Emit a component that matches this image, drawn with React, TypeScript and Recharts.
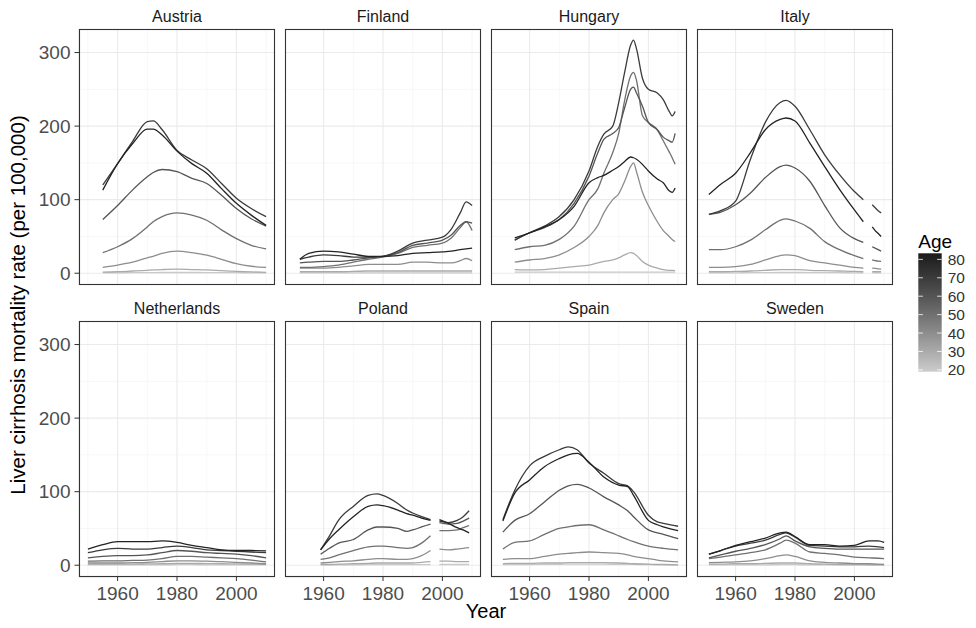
import React from 'react';
import { LineChart, Line, XAxis, YAxis, CartesianGrid } from 'recharts';

// age groups, light (young) to dark (old)
const ages = [20, 30, 40, 50, 60, 70, 80];

const austriaYears = [1955, 1960, 1965, 1970, 1972, 1975, 1980, 1985, 1990, 1995, 2000, 2005, 2010];
const austriaRates = [
  [0.5, 0.6, 0.7, 0.8, 0.9, 1, 1, 1, 0.9, 0.8, 0.7, 0.6, 0.5],
  [1.5, 2, 3, 4, 4.5, 5, 5.5, 5, 4.5, 3.5, 2.5, 1.8, 1.2],
  [8, 11, 15, 21, 23, 27, 30, 28, 24.5, 19, 13, 9.5, 8],
  [28, 36, 47, 63, 70, 77, 82, 79, 72, 59, 47, 38, 33],
  [73, 92, 113, 131, 137, 141, 138, 129, 122, 106, 88, 74, 64],
  [120, 149, 179, 206, 207, 195, 167, 154, 142, 122, 102, 88, 77],
  [113, 149, 176, 196, 196, 188, 166, 149, 136, 115, 95, 79, 65],
];

const finlandYears = [1952, 1955, 1960, 1965, 1970, 1975, 1980, 1985, 1990, 1995, 2000, 2003, 2006, 2008, 2010];
const finlandRates = [
  [0.5, 0.5, 0.5, 0.5, 0.5, 0.5, 0.5, 0.6, 0.6, 0.6, 0.6, 0.6, 0.6, 0.6, 0.6],
  [2, 2, 2, 2, 2.5, 3, 3, 3, 3, 3, 3, 3, 3, 3, 3],
  [7, 7, 7, 8, 10, 12, 12, 12, 15, 15, 14, 14, 17, 20, 17],
  [8, 8, 9, 11, 15, 19, 22, 27, 35, 38, 41, 48, 62, 70, 58],
  [14, 15, 16, 16, 18, 21, 23, 28, 38, 41, 45, 52, 65, 70, 68],
  [19, 22, 25, 24, 22, 22, 23, 30, 41, 45, 49, 60, 82, 97, 92],
  [19, 27, 30, 29, 26, 23, 23, 24, 27, 28, 29, 30, 32, 33, 34],
];

const hungaryYears = [1955, 1960, 1965, 1970, 1975, 1980, 1983, 1985, 1988, 1990, 1992, 1994, 1995, 1996, 1998, 2000, 2003, 2005, 2007, 2008, 2009];
const hungaryRates = [
  [1.5, 1.5, 1.5, 1.5, 1.5, 1.5, 1.5, 1.5, 1.5, 1.5, 1.5, 1.5, 1.5, 1.5, 1.5, 1.5, 1.5, 1.5, 1.5, 1.5, 1.5],
  [5, 4.5, 5, 7, 9, 11, 14, 16, 18, 21, 25, 28, 27, 24, 16, 11, 7, 5, 4, 4, 3.6],
  [15, 18, 20, 25, 35, 50, 65, 82, 100, 108, 125, 145, 150, 138, 110, 92, 70, 58, 50, 46, 43],
  [32, 36, 38, 46, 64, 100, 115, 136, 164, 190, 235, 268, 273, 262, 214, 205, 195, 180, 165, 157, 148],
  [45, 55, 62, 73, 95, 132, 164, 182, 190, 198, 225, 250, 253, 245, 227, 205, 195, 185, 180, 178, 190],
  [45, 55, 64, 77, 100, 139, 173, 189, 200, 232, 273, 310, 317, 305, 265, 250, 245, 236, 220, 214, 220],
  [48, 55, 63, 73, 91, 123, 130, 133, 140, 145, 152, 158, 157, 155, 148, 139, 128, 123, 112, 110, 116],
];

const italyYears = [1951, 1955, 1960, 1965, 1970, 1975, 1977, 1980, 1985, 1990, 1995, 2000, 2003, 2005, 2006, 2007, 2008, 2009];
const italyRates = [
  [0.5, 0.5, 0.6, 0.7, 0.8, 1, 1, 1, 0.9, 0.8, 0.7, 0.6, 0.5, null, 0.5, 0.5, 0.5, 0.5],
  [2, 2, 2.5, 3, 4, 5, 5, 5, 4, 3.5, 3, 2.5, 2, null, 2, 2, 2, 2],
  [8, 8, 9, 12, 18, 24, 25, 24, 17, 14, 11, 8, 7, null, 7, 6.5, 6, 5.5],
  [32, 32, 36, 45, 59, 72, 74, 71, 61, 43, 32, 24, 20, null, 18, 17, 16.5, 16],
  [80, 83, 93, 109, 130, 145, 147, 143, 125, 92, 62, 47, 42, null, 36, 34, 32, 30],
  [80, 85, 98, 155, 205, 232, 235, 227, 195, 161, 134, 111, 100, null, 93, 89, 85, 82],
  [107, 121, 136, 164, 195, 209, 211, 207, 177, 145, 114, 86, 70, null, 63, 58, 54, 50],
];

const netherlandsYears = [1950, 1955, 1960, 1965, 1970, 1975, 1980, 1985, 1990, 1995, 2000, 2005, 2010];
const netherlandsRates = [
  [0.5, 0.5, 0.5, 0.5, 0.5, 0.6, 0.7, 0.7, 0.6, 0.6, 0.5, 0.5, 0.5],
  [1.5, 1.5, 1.5, 1.5, 1.8, 2, 2.5, 2.5, 2.2, 2, 1.8, 1.5, 1.2],
  [3, 3, 3, 3.5, 4, 5, 6, 6, 5.5, 5, 4, 3, 2],
  [5.5, 6, 6, 6.5, 7, 9, 12, 12, 11, 10, 9, 7, 4.5],
  [10, 12, 13, 13, 14, 17, 20, 19, 17, 16, 15, 13, 10],
  [17, 21, 23, 22, 22, 24, 26, 24, 21, 20, 19, 18, 17],
  [22, 28, 32, 32, 32, 33, 31, 27, 24, 21, 20, 20, 19.5],
];

const polandYears = [1959, 1962, 1965, 1970, 1975, 1978, 1980, 1985, 1988, 1990, 1993, 1996, 1998, 1999, 2002, 2005, 2007, 2009];
const polandRates = [
  [0.5, 0.5, 0.5, 0.6, 0.7, 0.8, 0.8, 0.8, 0.8, 0.8, 0.9, 1, null, 1, 1, 1, 1, 1],
  [1, 1, 1.5, 2, 2.5, 3, 3, 3, 3, 3, 4, 5, null, 5.5, 5.5, 5, 5, 5],
  [3, 4, 5, 6, 8, 9, 9, 8, 8, 9, 13, 20, null, 22, 21, 22, 23, 24],
  [8, 10, 14, 20, 25, 26, 26, 24, 23, 24, 30, 40, null, 47, 47, 48, 51, 54],
  [15, 23, 30, 35, 48, 52, 52, 50, 46, 48, 52, 56, null, 58, 56, 57, 60, 64],
  [21, 40, 61, 80, 95, 97, 95, 84, 75, 71, 66, 62, null, 60, 58, 61, 66, 74],
  [21, 36, 48, 66, 80, 82, 81, 75, 70, 68, 64, 61, null, 62, 57, 51, 48, 44],
];

const spainYears = [1951, 1955, 1960, 1965, 1970, 1973, 1976, 1980, 1985, 1990, 1993, 1995, 2000, 2003, 2005, 2010];
const spainRates = [
  [1, 1, 1, 1.2, 1.3, 1.4, 1.4, 1.5, 1.4, 1.3, 1.2, 1.1, 0.9, 0.8, 0.7, 0.5],
  [2.3, 2.5, 2.5, 3, 3, 3.5, 3.5, 3.6, 3.5, 3, 2.5, 2, 1.5, 1, 1, 0.5],
  [8, 9, 9, 12, 15, 16, 17, 18, 17, 16, 14, 12, 9, 7, 6, 4.5],
  [22, 31, 33, 42, 50, 52, 54, 55, 48, 40, 35, 32, 26, 24, 23, 21],
  [45, 61, 70, 86, 102, 108, 110, 105, 93, 82, 74, 66, 48, 44, 42, 36],
  [62, 102, 135, 148, 157, 161, 157, 139, 125, 111, 108, 100, 68, 59, 57, 53],
  [60, 98, 116, 134, 145, 150, 152, 140, 120, 109, 107, 95, 61, 55, 52, 47],
];

const swedenYears = [1951, 1955, 1960, 1965, 1970, 1975, 1977, 1980, 1985, 1990, 1995, 2000, 2005, 2008, 2010];
const swedenRates = [
  [0.5, 0.5, 0.5, 0.5, 0.6, 0.7, 0.7, 0.7, 0.6, 0.5, 0.5, 0.5, 0.5, 0.5, 0.5],
  [1.5, 1.5, 2, 2, 2.5, 3, 3, 3, 2, 1.5, 1, 0.8, 0.6, 0.5, 0.5],
  [3.6, 4, 4.5, 6, 9, 13, 14, 12, 6, 4, 3, 2.3, 2, 1.5, 1],
  [9, 11, 14, 17, 21, 30, 34, 30, 18, 16, 14, 11, 10, 9.5, 9],
  [10, 14, 19, 23, 28, 36, 40, 33, 25, 23, 22, 22, 22, 22, 22],
  [15, 20, 26, 30, 34, 42, 44, 38, 27, 26, 25, 25, 26, 25, 24],
  [15, 20, 27, 32, 37, 44, 45, 39, 28, 28, 26, 27, 33, 33, 31],
];

const xMajor = [1960, 1980, 2000];
const xMinor = [1950, 1970, 1990, 2010];
const yMajor = [0, 100, 200, 300];
const yMinor = [50, 150, 250];
const legendTicks = [20, 30, 40, 50, 60, 70, 80];

const panels = [
  { name: 'Austria', years: austriaYears, rates: austriaRates },
  { name: 'Finland', years: finlandYears, rates: finlandRates },
  { name: 'Hungary', years: hungaryYears, rates: hungaryRates },
  { name: 'Italy', years: italyYears, rates: italyRates },
  { name: 'Netherlands', years: netherlandsYears, rates: netherlandsRates },
  { name: 'Poland', years: polandYears, rates: polandRates },
  { name: 'Spain', years: spainYears, rates: spainRates },
  { name: 'Sweden', years: swedenYears, rates: swedenRates },
];

const FONT = '"Liberation Sans", Arial, sans-serif';
const X_DOMAIN = [1947, 2013];
const Y_DOMAIN = [-16, 332];
const PANEL_LEFT = [79, 285, 491, 697];
const PANEL_TOP = [29, 321];
const PANEL_W = 196;
const PANEL_H = 256;
const Y_AXIS_W = 60;
const X_AXIS_H = 40;

const AGE_MIN = 19;
const AGE_MAX = 83.3;

// grey ramp interpolated in lightness, like the colour bar
function ageColor(age: number) {
  const t = Math.min(1, Math.max(0, (age - AGE_MIN) / (AGE_MAX - AGE_MIN)));
  const L = 82 - t * 72;
  const fy = (L + 16) / 116;
  const Y = L > 8 ? fy ** 3 : L / 903.3;
  const c = Y <= 0.0031308 ? 12.92 * Y : 1.055 * Y ** (1 / 2.4) - 0.055;
  const g = Math.round(c * 255);
  return `rgb(${g},${g},${g})`;
}

const XTick = (props: any) => {
  const { x, y, payload } = props;
  return (
    <g>
      <line x1={x} x2={x} y1={y} y2={y + 4} stroke="#333" strokeWidth={1} />
      <text x={x} y={y + 23} textAnchor="middle" fill="#4d4d4d" fontSize={19} fontFamily={FONT}>
        {payload.value}
      </text>
    </g>
  );
};

const YTick = (props: any) => {
  const { x, y, payload } = props;
  return (
    <g>
      <line x1={x - 4.5} x2={x} y1={y} y2={y} stroke="#333" strokeWidth={1} />
      <text x={x - 8.5} y={y + 6.7} textAnchor="end" fill="#4d4d4d" fontSize={19} fontFamily={FONT}>
        {payload.value}
      </text>
    </g>
  );
};

function Panel({ index }: { index: number }) {
  const p = panels[index];
  const col = index % 4;
  const row = Math.floor(index / 4);
  const showY = col === 0;
  const showX = row === 1;
  const data = p.years.map((year, i) => {
    const r: Record<string, number | null> = { year };
    ages.forEach((a, k) => {
      r['a' + a] = p.rates[k][i];
    });
    return r;
  });
  const width = PANEL_W + (showY ? Y_AXIS_W : 0);
  const height = PANEL_H + (showX ? X_AXIS_H : 0);
  return (
    <div style={{ position: 'absolute', left: PANEL_LEFT[col] - (showY ? Y_AXIS_W : 0), top: PANEL_TOP[row] }}>
      <LineChart width={width} height={height} data={data} margin={{ top: 0, right: 0, bottom: 0, left: 0 }}>
        <CartesianGrid xAxisId="minor" yAxisId="minor" stroke="#f2f2f2" strokeWidth={0.6} />
        <CartesianGrid stroke="#ebebeb" strokeWidth={1.1} />
        <XAxis xAxisId="minor" type="number" dataKey="year" domain={X_DOMAIN} ticks={xMinor} allowDataOverflow hide />
        <YAxis yAxisId="minor" type="number" domain={Y_DOMAIN} ticks={yMinor} allowDataOverflow hide />
        <XAxis
          type="number"
          dataKey="year"
          domain={X_DOMAIN}
          ticks={xMajor}
          interval={0}
          allowDataOverflow
          hide={!showX}
          height={X_AXIS_H}
          axisLine={false}
          tickLine={false}
          tickSize={0}
          tickMargin={0}
          tick={<XTick />}
        />
        <YAxis
          type="number"
          domain={Y_DOMAIN}
          ticks={yMajor}
          interval={0}
          allowDataOverflow
          hide={!showY}
          width={Y_AXIS_W}
          axisLine={false}
          tickLine={false}
          tickSize={0}
          tickMargin={0}
          tick={<YTick />}
        />
        {ages.map((a) => (
          <Line
            key={a}
            type="monotone"
            dataKey={'a' + a}
            stroke={ageColor(a)}
            strokeWidth={1.3}
            dot={false}
            activeDot={false}
            connectNulls={false}
            isAnimationActive={false}
          />
        ))}
      </LineChart>
    </div>
  );
}

export default function App() {
  const barTop = 253.3;
  const barBottom = 371.7;
  const barX = 918.3;
  const barW = 23.4;
  const ageY = (a: number) => barTop + ((AGE_MAX - a) / (AGE_MAX - AGE_MIN)) * (barBottom - barTop);
  const stops = Array.from({ length: 11 }, (_, i) => i / 10);
  return (
    <div style={{ position: 'absolute', left: 0, top: 0, width: 976, height: 628, background: '#fff', fontFamily: FONT }}>
      {panels.map((_, i) => (
        <Panel key={i} index={i} />
      ))}
      <svg width={976} height={628} style={{ position: 'absolute', left: 0, top: 0, pointerEvents: 'none' }}>
        <defs>
          <linearGradient id="ageBar" x1="0" y1="0" x2="0" y2="1">
            {stops.map((s) => (
              <stop key={s} offset={s} stopColor={ageColor(AGE_MAX - s * (AGE_MAX - AGE_MIN))} />
            ))}
          </linearGradient>
        </defs>
        {panels.map((p, i) => {
          const col = i % 4;
          const row = Math.floor(i / 4);
          return (
            <g key={p.name}>
              <rect x={PANEL_LEFT[col] + 0.5} y={PANEL_TOP[row] + 0.5} width={PANEL_W - 1} height={PANEL_H - 1} fill="none" stroke="#333" strokeWidth={1.1} />
              <text x={PANEL_LEFT[col] + PANEL_W / 2} y={PANEL_TOP[row] - 7} textAnchor="middle" fontSize={16} fill="#1a1a1a" fontFamily={FONT}>
                {p.name}
              </text>
            </g>
          );
        })}
        <text x={486} y={618} textAnchor="middle" fontSize={20} fill="#000" fontFamily={FONT}>
          Year
        </text>
        <text transform="rotate(-90)" x={-305} y={25} textAnchor="middle" fontSize={20.5} fill="#000" fontFamily={FONT}>
          Liver cirrhosis mortality rate (per 100,000)
        </text>
        <text x={barX} y={248} fontSize={19} fill="#000" fontFamily={FONT}>
          Age
        </text>
        <rect x={barX} y={barTop} width={barW} height={barBottom - barTop} fill="url(#ageBar)" />
        {legendTicks.map((a) => (
          <g key={a}>
            <line x1={barX} x2={barX + 4.6} y1={ageY(a)} y2={ageY(a)} stroke="#fff" strokeWidth={0.8} />
            <line x1={barX + barW - 4.6} x2={barX + barW} y1={ageY(a)} y2={ageY(a)} stroke="#fff" strokeWidth={0.8} />
            <text x={barX + barW + 6} y={ageY(a) + 5.5} fontSize={15.5} fill="#333" fontFamily={FONT}>
              {a}
            </text>
          </g>
        ))}
      </svg>
    </div>
  );
}
